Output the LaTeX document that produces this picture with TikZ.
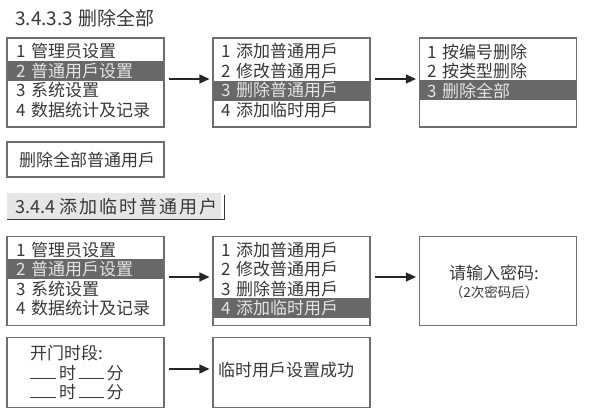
\documentclass[tikz,border=0pt]{standalone}
\usepackage{fontspec}
\setmainfont{Noto Sans CJK SC}
\usetikzlibrary{arrows.meta}
\definecolor{inkgray}{HTML}{383838}
\definecolor{framegray}{HTML}{6E6E6E}
\definecolor{bargray}{HTML}{686868}
\definecolor{barink}{HTML}{E4E4E4}
\definecolor{titlegray}{HTML}{E6E6E6}
\newcommand{\menuRow}[2]{#1\hspace{5.5pt}#2}

\begin{document}
\begin{tikzpicture}[x = 1pt, y = -1pt, text = inkgray, font = \fontsize{17}{20}\selectfont]
	\tikzstyle{menuStyle} = [draw = framegray, line width = 1.1pt, minimum width = 157pt, minimum height = 89pt, inner sep = 0pt]
	\tikzstyle{msgStyle} = [draw = framegray, line width = 1.1pt, minimum width = 157pt, inner sep = 0pt]
	\tikzstyle{rowStyle} = [anchor = west, inner sep = 0pt]
	\tikzstyle{selStyle} = [rowStyle, text = barink]
	\tikzstyle{barStyle} = [fill = bargray]
	\tikzstyle{headStyle} = [anchor = west, inner sep = 0pt, text = inkgray, font = \fontsize{19}{20}\selectfont]
	\tikzstyle{arrowStyle} = [draw = black!85, line width = 1.3pt, -{Triangle[length = 10pt, width = 9pt]}, shorten < = 4pt, shorten > = 3pt]
	\useasboundingbox (0,0) rectangle (600,420);

	% 3.4.3.3
	\node[headStyle] (head1) at (15,18) {\menuRow{3.4.3.3}{删除全部}};

	\fill[barStyle] (7,61) rectangle (164,81);
	\node[menuStyle] (menuMain) at (85.5,82.5) {};
	\node[rowStyle] (mainA1) at (16,51.5) {\menuRow{1}{管理员设置}};
	\node[selStyle] (mainA2) at (16,71) {\menuRow{2}{普通用戶设置}};
	\node[rowStyle] (mainA3) at (16,90.5) {\menuRow{3}{系统设置}};
	\node[rowStyle] (mainA4) at (16,110) {\menuRow{4}{数据统计及记录}};

	\fill[barStyle] (213,81) rectangle (370,101);
	\node[menuStyle] (menuUser) at (291.5,82.5) {};
	\node[rowStyle] (userA1) at (221,51.5) {\menuRow{1}{添加普通用戶}};
	\node[rowStyle] (userA2) at (221,71) {\menuRow{2}{修改普通用戶}};
	\node[selStyle] (userA3) at (221,90.5) {\menuRow{3}{删除普通用戶}};
	\node[rowStyle] (userA4) at (221,110) {\menuRow{4}{添加临时用戶}};

	\fill[barStyle] (419,80) rectangle (577,100);
	\node[menuStyle] (menuDelete) at (498,82.5) {};
	\node[rowStyle] (delA1) at (427,51.5) {\menuRow{1}{按编号删除}};
	\node[rowStyle] (delA2) at (427,71) {\menuRow{2}{按类型删除}};
	\node[selStyle] (delA3) at (427,90.5) {\menuRow{3}{删除全部}};

	\node[msgStyle, minimum height = 35pt] (msgDelete) at (85.5,159.5) {};
	\node[rowStyle] (msgDeleteText) at (19,159.5) {删除全部普通用戶};

	\draw[arrowStyle] ([yshift = 3.5pt]menuMain.east) -- ([yshift = 3.5pt]menuUser.west);
	\draw[arrowStyle] ([yshift = 3.5pt]menuUser.east) -- ([yshift = 3.5pt]menuDelete.west);

	% 3.4.4
	\fill[titlegray] (7,193) rectangle (221,219);
	\draw[draw = inkgray, line width = 1pt] (7,219.5) -- (224,219.5) -- (224,195);
	\node[headStyle, font = \fontsize{18}{20}\selectfont] (head2) at (15,206.5) {3.4.4\hspace{4pt}{\addfontfeature{LetterSpace = 11}添加临时普通用户}};

	\fill[barStyle] (7,259) rectangle (164,279);
	\node[menuStyle] (menuMainB) at (85.5,281) {};
	\node[rowStyle] (mainB1) at (16,250) {\menuRow{1}{管理员设置}};
	\node[selStyle] (mainB2) at (16,269.5) {\menuRow{2}{普通用戶设置}};
	\node[rowStyle] (mainB3) at (16,289) {\menuRow{3}{系统设置}};
	\node[rowStyle] (mainB4) at (16,308.5) {\menuRow{4}{数据统计及记录}};

	\fill[barStyle] (213,298) rectangle (370,318);
	\node[menuStyle] (menuUserB) at (291.5,281) {};
	\node[rowStyle] (userB1) at (221,250) {\menuRow{1}{添加普通用戶}};
	\node[rowStyle] (userB2) at (221,269.5) {\menuRow{2}{修改普通用戶}};
	\node[rowStyle] (userB3) at (221,289) {\menuRow{3}{删除普通用戶}};
	\node[selStyle] (userB4) at (221,308.5) {\menuRow{4}{添加临时用戶}};

	\node[menuStyle] (msgPassword) at (498,281) {};
	\node (pwLine1) at (494,273) {请输入密码:};
	\node[font = \fontsize{13.5}{16}\selectfont] (pwLine2) at (494,292) {（2次密码后）};

	\node[msgStyle, minimum height = 70pt] (msgTime) at (85.5,372.5) {};
	\node[rowStyle] (timeLine1) at (30,353) {开门时段:};
	\node[rowStyle] (timeLine2) at (30,373) {\rule{26pt}{1pt}\,时\,\rule{25pt}{1pt}\,分};
	\node[rowStyle] (timeLine3) at (30,392) {\rule{26pt}{1pt}\,时\,\rule{25pt}{1pt}\,分};

	\node[msgStyle, minimum height = 70pt] (msgDone) at (291.5,372.5) {};
	\node[rowStyle] (doneText) at (218,370) {临时用戶设置成功};

	\draw[arrowStyle] ([yshift = 4pt]menuMainB.east) -- ([yshift = 4pt]menuUserB.west);
	\draw[arrowStyle] ([yshift = 4pt]menuUserB.east) -- ([yshift = 4pt]msgPassword.west);
	\draw[arrowStyle] ([yshift = 3.5pt]msgTime.east) -- ([yshift = 3.5pt]msgDone.west);
\end{tikzpicture}
\end{document}
